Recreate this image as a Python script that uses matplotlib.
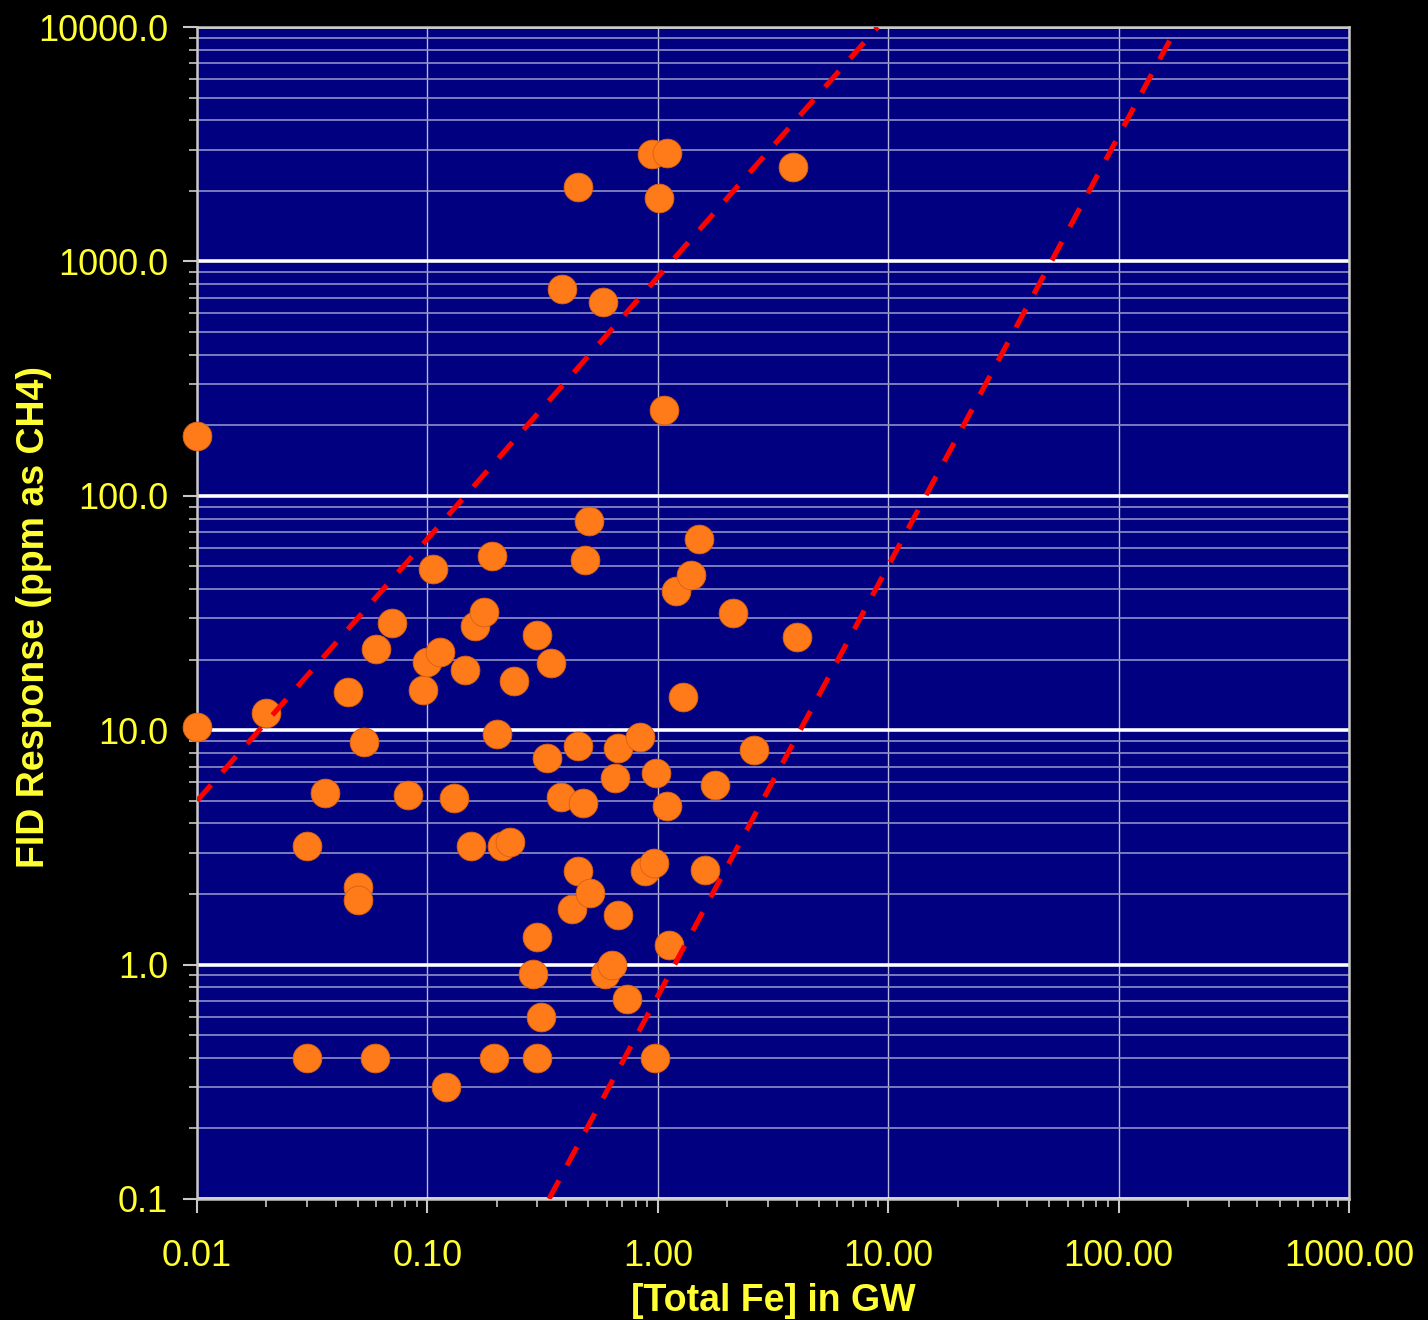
import matplotlib
matplotlib.use("Agg")
import matplotlib.pyplot as plt
from matplotlib.ticker import FixedLocator, FuncFormatter, LogLocator, NullFormatter

# Total Fe in groundwater vs FID response
fe = [0.01, 0.01, 0.02, 0.03, 0.03, 0.036, 0.045, 0.05, 0.05, 0.053,
      0.06, 0.059, 0.07, 0.082, 0.096, 0.10, 0.106, 0.113, 0.12, 0.13,
      0.146, 0.155, 0.161, 0.176, 0.19, 0.20, 0.195, 0.21, 0.228, 0.238,
      0.30, 0.30, 0.287, 0.31, 0.30, 0.33, 0.344, 0.384, 0.38, 0.425,
      0.45, 0.45, 0.45, 0.473, 0.483, 0.503, 0.508, 0.578, 0.59, 0.633,
      0.652, 0.672, 0.67, 0.735, 0.837, 0.88, 0.944, 0.963, 0.98, 0.97,
      1.01, 1.064, 1.096, 1.10, 1.119, 1.2, 1.285, 1.393, 1.51, 1.60,
      1.77, 2.12, 2.62, 3.86, 4.02]
fid = [180, 10.3, 11.8, 3.2, 0.4, 5.4, 14.6, 2.14, 1.89, 8.9,
       22.2, 0.4, 28.7, 5.3, 14.8, 19.5, 48.7, 21.6, 0.30, 5.14,
       18.1, 3.2, 27.8, 31.9, 55.4, 9.6, 0.4, 3.2, 3.34, 16.2,
       25.5, 1.31, 0.91, 0.60, 0.40, 7.6, 19.3, 762, 5.19, 1.72,
       2076, 8.6, 2.51, 4.9, 53.2, 78, 2.02, 671, 0.91, 1.0,
       6.25, 8.4, 1.63, 0.71, 9.35, 2.5, 2871, 2.71, 6.57, 0.40,
       1864, 232, 2900, 4.75, 1.21, 39.3, 13.9, 45.9, 65.4, 2.54,
       5.84, 31.6, 8.23, 2529, 25.0]

# envelope lines (end points)
upper_x = [0.01, 9.0]
upper_y = [5.0, 10000]
lower_x = [0.337, 179]
lower_y = [0.1, 10000]

x_ticks = [0.01, 0.1, 1, 10, 100, 1000]
y_ticks = [0.1, 1, 10, 100, 1000, 10000]

yellow = "#ffff33"
navy = "#000080"

plt.rcParams['font.family'] = ['Liberation Sans', 'DejaVu Sans']

fig = plt.figure(figsize=(14.28, 13.2), dpi=100, facecolor="black")
ax = fig.add_axes([0.138, 0.0917, 0.8067, 0.8878])
ax.set_facecolor(navy)
ax.set_xscale("log")
ax.set_yscale("log")
ax.set_xlim(0.01, 1000)
ax.set_ylim(0.1, 10000)

# grid
ax.xaxis.set_major_locator(FixedLocator(x_ticks))
ax.yaxis.set_major_locator(FixedLocator(y_ticks))
ax.xaxis.set_minor_locator(LogLocator(base=10, subs=range(2, 10)))
ax.yaxis.set_minor_locator(LogLocator(base=10, subs=range(2, 10)))
ax.xaxis.set_minor_formatter(NullFormatter())
ax.yaxis.set_minor_formatter(NullFormatter())
ax.grid(True, axis="x", which="major", color="#b8b8d8", lw=1.0)
ax.grid(True, axis="y", which="major", color="white", lw=2.6)
ax.grid(True, axis="y", which="minor", color="#9090c8", lw=1.2)
ax.set_axisbelow(True)

ax.scatter(fe, fid, s=430, color="#ff7a18", edgecolors="#d86010",
           linewidths=0.6, zorder=3, clip_on=False)

ax.plot(upper_x, upper_y, color="red", lw=3.7, dashes=(4.1, 3.3), zorder=4)
ax.plot(lower_x, lower_y, color="red", lw=3.7, dashes=(4.1, 3.3), zorder=4)

ax.xaxis.set_major_formatter(FuncFormatter(lambda v, p: "%.2f" % v))
ax.yaxis.set_major_formatter(FuncFormatter(lambda v, p: "%.1f" % v))

for s in ax.spines.values():
    s.set_color("#c8c8c8")
    s.set_linewidth(1.8)

ax.tick_params(axis="both", which="major", colors="#c8c8c8", labelcolor=yellow,
               labelsize=26, length=10, width=1.5, direction="out")
ax.tick_params(axis="both", which="minor", colors="#c8c8c8", length=6,
               width=1.2, direction="out")
ax.tick_params(axis="x", which="major", pad=19)
ax.tick_params(axis="y", which="major", pad=11)

ax.set_xlabel("[Total Fe] in GW", color=yellow, fontsize=27,
              fontweight="bold", labelpad=6)
ax.set_ylabel("FID Response (ppm as CH4)", color=yellow, fontsize=27,
              fontweight="bold")
ax.yaxis.set_label_coords(-0.126, 0.497)

fig.savefig("out.png", dpi=100, facecolor="black")
